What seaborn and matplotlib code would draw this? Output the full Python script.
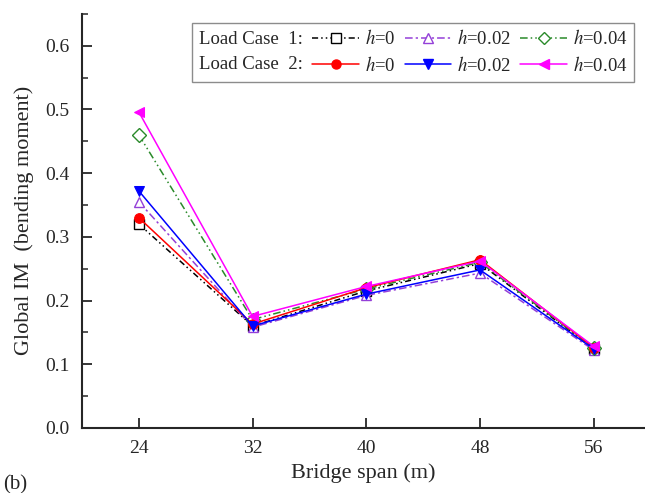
import pandas as pd
import seaborn as sns
import matplotlib.pyplot as plt
from matplotlib.lines import Line2D
from matplotlib.ticker import MultipleLocator

# Bridge spans (m)
spans = [24, 32, 40, 48, 56]

# Global IM (bending moment)
lc1_h0 = [0.320, 0.160, 0.215, 0.258, 0.124]
lc1_h002 = [0.355, 0.158, 0.208, 0.243, 0.122]
lc1_h004 = [0.460, 0.170, 0.218, 0.260, 0.125]
lc2_h0 = [0.330, 0.163, 0.220, 0.264, 0.126]
lc2_h002 = [0.372, 0.160, 0.210, 0.248, 0.124]
lc2_h004 = [0.496, 0.175, 0.222, 0.262, 0.128]

series_names = ['LC1 h=0', 'LC1 h=0.02', 'LC1 h=0.04', 'LC2 h=0', 'LC2 h=0.02', 'LC2 h=0.04']
series_values = [lc1_h0, lc1_h002, lc1_h004, lc2_h0, lc2_h002, lc2_h004]
legend_labels = ['$h$=0', '$h$=0.02', '$h$=0.04']

colors = {'LC1 h=0': 'black', 'LC1 h=0.02': '#9440d8', 'LC1 h=0.04': '#2a8a2a',
          'LC2 h=0': '#ff0000', 'LC2 h=0.02': '#0000ff', 'LC2 h=0.04': '#ff00ff'}
markers = {'LC1 h=0': 's', 'LC1 h=0.02': '^', 'LC1 h=0.04': 'D',
           'LC2 h=0': 'o', 'LC2 h=0.02': 'v', 'LC2 h=0.04': '<'}
dashes = {'LC1 h=0': (4, 2, 1, 2, 1, 2), 'LC1 h=0.02': (5, 2, 1.5, 2), 'LC1 h=0.04': (5, 2, 1, 2, 1, 2),
          'LC2 h=0': '', 'LC2 h=0.02': '', 'LC2 h=0.04': ''}


def main():
    rows = []
    for name, vals in zip(series_names, series_values):
        for s, v in zip(spans, vals):
            rows.append({'span': s, 'im': v, 'series': name})
    df = pd.DataFrame(rows)

    sns.set_style('ticks')
    plt.rcParams['font.family'] = ['Liberation Serif', 'DejaVu Serif']
    plt.rcParams['mathtext.fontset'] = 'stix'

    fig = plt.figure(figsize=(6.45, 4.93), dpi=100)
    ax = fig.add_axes([0.127, 0.132, 0.873, 0.840])

    sns.lineplot(data=df, x='span', y='im', hue='series', style='series',
                 palette=colors, markers=markers, dashes=dashes, ax=ax,
                 legend=False, linewidth=1.1, markersize=7)

    # LC1 markers are open
    for line in ax.get_lines():
        name = None
        for n in series_names:
            if line.get_color() == colors[n]:
                name = n
        if name is not None and name.startswith('LC1'):
            line.set_markerfacecolor('white')
            line.set_markeredgecolor(colors[name])
            line.set_markeredgewidth(1.0)
        elif name is not None:
            line.set_markeredgecolor(colors[name])

    ax.set_xlim(20, 59.6)
    ax.set_ylim(0, 0.65)
    ax.set_xticks(spans)
    ax.yaxis.set_major_locator(MultipleLocator(0.1))
    ax.yaxis.set_minor_locator(MultipleLocator(0.05))
    ax.yaxis.set_major_formatter(plt.FormatStrFormatter('%.1f'))
    ax.tick_params(axis='both', which='major', direction='in', length=7, width=1.3, labelsize=14)
    ax.tick_params(axis='y', which='minor', direction='in', length=4, width=1.1)
    ax.tick_params(axis='x', pad=9)
    ax.tick_params(axis='y', pad=9)
    sns.despine(ax=ax)
    for sp in ['left', 'bottom']:
        ax.spines[sp].set_linewidth(1.5)

    ax.set_xlabel('Bridge span (m)', fontsize=16, labelpad=4)
    ax.set_ylabel('Global IM  (bending moment)', fontsize=16, labelpad=8)
    fig.text(0.005, 0.008, '(b)', fontsize=15)

    # legend: two rows, first column holds the row titles
    blank = Line2D([], [], linestyle='none')
    handles = [blank, blank]
    labels = ['Load Case  1:', 'Load Case  2:']
    for i in range(3):
        for name in (series_names[i], series_names[i + 3]):
            open_m = name.startswith('LC1')
            h = Line2D([], [], color=colors[name], marker=markers[name], markersize=6.5,
                       linewidth=1.1, markerfacecolor='white' if open_m else colors[name],
                       markeredgecolor=colors[name])
            if dashes[name]:
                h.set_dashes(dashes[name])
            handles.append(h)
            labels.append(legend_labels[i])
    leg = ax.legend(handles, labels, ncol=4, loc='upper left', bbox_to_anchor=(0.196, 0.978),
                    fontsize=13.5, frameon=True, fancybox=False, edgecolor='#707070',
                    handlelength=2.5, handletextpad=0.3, columnspacing=0.5,
                    labelspacing=0.4, borderpad=0.35, borderaxespad=0)
    leg.get_frame().set_linewidth(1.0)
    # drop the empty handle space in the first column
    col0 = leg._legend_handle_box.get_children()[0]
    for hp in col0.get_children():
        hp.get_children()[0].width = 0
        hp.sep = 0

    plt.savefig('out.png', dpi=100)
    plt.close()


if __name__ == "__main__":
    main()
